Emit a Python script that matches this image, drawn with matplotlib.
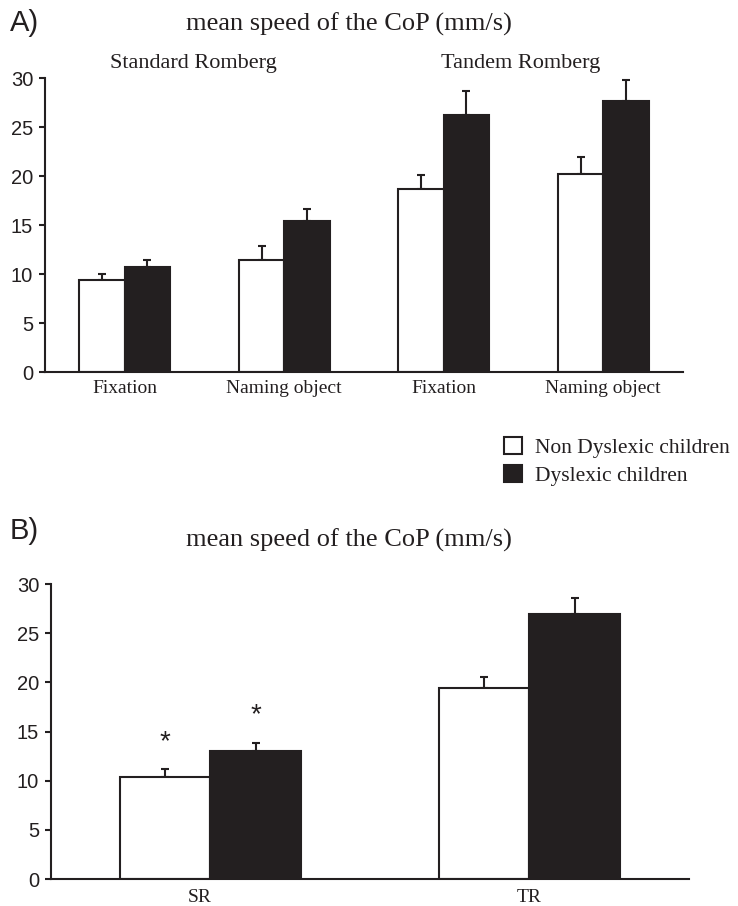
import matplotlib
matplotlib.use('Agg')
import matplotlib.pyplot as plt
import numpy as np

# panel A data
groups_a = ['Fixation', 'Naming object', 'Fixation', 'Naming object']
non_dys_a = [9.4, 11.4, 18.7, 20.25]
non_dys_a_err = [0.65, 1.45, 1.4, 1.7]
dys_a = [10.75, 15.4, 26.2, 27.7]
dys_a_err = [0.7, 1.2, 2.5, 2.1]
conditions_a = ['Standard Romberg', 'Tandem Romberg']

# panel B data
groups_b = ['SR', 'TR']
non_dys_b = [10.4, 19.45]
non_dys_b_err = [0.8, 1.1]
dys_b = [13.05, 26.95]
dys_b_err = [0.8, 1.6]
star_y = [13.9, 16.7]   # asterisks above SR bars (non dyslexic, dyslexic)

series_names = ['Non Dyslexic children', 'Dyslexic children']
title = 'mean speed of the CoP (mm/s)'

SERIF = 'Liberation Serif'
SANS = 'Liberation Sans'
DARK = '#231f20'
W = 0.285


def draw_bars(ax, n, white_vals, white_err, black_vals, black_err):
    x = np.arange(n)
    ax.bar(x - W / 2, white_vals, W, color='white', edgecolor=DARK, linewidth=1.5, zorder=2)
    ax.bar(x + W / 2, black_vals, W, color=DARK, edgecolor=DARK, linewidth=1.5, zorder=2)
    ax.errorbar(x - W / 2, white_vals, yerr=[np.zeros(n), white_err], fmt='none',
                ecolor=DARK, elinewidth=1.5, capsize=3, capthick=1.5, zorder=1)
    ax.errorbar(x + W / 2, black_vals, yerr=[np.zeros(n), black_err], fmt='none',
                ecolor=DARK, elinewidth=1.5, capsize=3, capthick=1.5, zorder=1)
    ax.set_xlim(-0.5, n - 0.5)
    ax.set_ylim(0, 30)
    ax.set_yticks([0, 5, 10, 15, 20, 25, 30])
    for s in ['top', 'right']:
        ax.spines[s].set_visible(False)
    for s in ['left', 'bottom']:
        ax.spines[s].set_linewidth(1.5)
        ax.spines[s].set_color(DARK)
    ax.tick_params(axis='y', length=4.5, width=1.5, color=DARK, pad=4, labelsize=14.5)
    for lab in ax.get_yticklabels():
        lab.set_fontfamily(SANS)
        lab.set_color(DARK)
    return x


fig = plt.figure(figsize=(7.38, 9.06), dpi=100)

# ---- panel A
axA = fig.add_axes([0.061, 0.5894, 0.8645, 0.3245])
xa = draw_bars(axA, 4, non_dys_a, non_dys_a_err, dys_a, dys_a_err)
axA.set_xticks(xa)
axA.set_xticklabels(groups_a, fontfamily=SERIF, fontsize=14, color=DARK)
axA.tick_params(axis='x', length=0, pad=6)
axA.text(0.43, 31.5, conditions_a[0], ha='center', va='center', fontfamily=SERIF,
         fontsize=16, color=DARK, clip_on=False)
axA.text(2.48, 31.5, conditions_a[1], ha='center', va='center', fontfamily=SERIF,
         fontsize=16, color=DARK, clip_on=False)

fig.text(0.013, 0.9746, 'A)', ha='left', va='center', fontfamily=SANS, fontsize=21, color=DARK)
fig.text(0.473, 0.9735, title, ha='center', va='center', fontfamily=SERIF, fontsize=19, color=DARK)

# legend
handles = axA.containers[:2]
fig.legend(handles, series_names, loc='upper left', bbox_to_anchor=(0.668, 0.53),
           frameon=False, prop={'family': SERIF, 'size': 15.5}, handlelength=0.85,
           handleheight=0.85, handletextpad=0.6, labelspacing=0.35, borderpad=0,
           labelcolor=DARK)

# ---- panel B
axB = fig.add_axes([0.0691, 0.0298, 0.8645, 0.3256])
xb = draw_bars(axB, 2, non_dys_b, non_dys_b_err, dys_b, dys_b_err)
axB.set_xticks([xb[0] - 0.035, xb[1]])
axB.set_xticklabels(groups_b, fontfamily=SERIF, fontsize=14, color=DARK)
axB.tick_params(axis='x', length=0, pad=7)
axB.text(xb[0] - W / 2, star_y[0], '*', ha='center', va='center', fontfamily=SANS,
         fontsize=20, color=DARK)
axB.text(xb[0] + W / 2, star_y[1], '*', ha='center', va='center', fontfamily=SANS,
         fontsize=20, color=DARK)

fig.text(0.013, 0.4139, 'B)', ha='left', va='center', fontfamily=SANS, fontsize=21, color=DARK)
fig.text(0.473, 0.404, title, ha='center', va='center', fontfamily=SERIF, fontsize=19, color=DARK)

fig.savefig('out.png', dpi=100)
